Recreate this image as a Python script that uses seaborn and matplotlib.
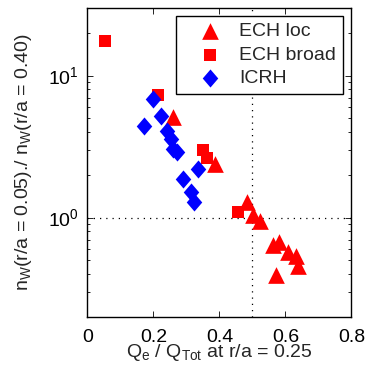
import numpy as np
import pandas as pd
import seaborn as sns
import matplotlib
matplotlib.use("Agg")
import matplotlib.pyplot as plt
from matplotlib.ticker import LogLocator, FixedLocator

# ---- data ----
ech_loc_x = [0.260, 0.386, 0.482, 0.502, 0.523, 0.561, 0.581, 0.608, 0.632, 0.639, 0.571]
ech_loc_y = [5.13, 2.40, 1.29, 1.04, 0.947, 0.643, 0.672, 0.572, 0.534, 0.454, 0.397]

ech_broad_x = [0.053, 0.215, 0.351, 0.361, 0.457]
ech_broad_y = [17.6, 7.28, 3.00, 2.64, 1.10]

icrh_x = [0.199, 0.223, 0.171, 0.240, 0.253, 0.260, 0.270, 0.336, 0.290, 0.313, 0.323]
icrh_y = [6.83, 5.22, 4.44, 4.10, 3.58, 3.05, 2.89, 2.21, 1.86, 1.52, 1.29]

labels = ["ECH loc", "ECH broad", "ICRH"]
x_ticks = [0, 0.2, 0.4, 0.6, 0.8]
x_tick_labels = ["0", "0.2", "0.4", "0.6", "0.8"]

sns.set_style("ticks")
plt.rcParams["font.family"] = ["Liberation Sans", "DejaVu Sans"]
plt.rcParams["mathtext.fontset"] = "custom"
plt.rcParams["mathtext.rm"] = "Liberation Sans"
plt.rcParams["mathtext.it"] = "Liberation Sans"
plt.rcParams["mathtext.default"] = "regular"
FS = 14

fig = plt.figure(figsize=(3.65, 3.71), dpi=100)
ax = fig.add_axes([0.2397, 0.1456, 0.7233, 0.8336])

df_loc = pd.DataFrame({"x": ech_loc_x, "y": ech_loc_y})
df_broad = pd.DataFrame({"x": ech_broad_x, "y": ech_broad_y})
df_icrh = pd.DataFrame({"x": icrh_x, "y": icrh_y})

# reference lines
ax.axvline(0.5, color="black", linestyle=(0, (1, 4)), linewidth=0.9, zorder=1)
ax.axhline(1.0, color="black", linestyle=(0, (1, 4)), linewidth=0.9, zorder=1)

diamond = [(0, 1), (0.86, 0), (0, -1), (-0.86, 0), (0, 1)]

sns.scatterplot(data=df_loc, x="x", y="y", marker="^", color=(1, 0, 0),
                s=12 ** 2, linewidth=0, ax=ax, label=labels[0], zorder=3)
sns.scatterplot(data=df_broad, x="x", y="y", marker="s", color=(1, 0, 0),
                s=8.4 ** 2, linewidth=0, ax=ax, label=labels[1], zorder=3)
sns.scatterplot(data=df_icrh, x="x", y="y", marker=diamond, color=(0, 0, 1),
                s=13 ** 2, linewidth=0, ax=ax, label=labels[2], zorder=4)

ax.set_yscale("log")
ax.set_xlim(0, 0.8)
ax.set_ylim(0.2, 30)
ax.xaxis.set_major_locator(FixedLocator(x_ticks))
ax.set_xticklabels(x_tick_labels)
ax.yaxis.set_major_locator(LogLocator(base=10, numticks=10))
ax.yaxis.set_minor_locator(LogLocator(base=10, subs=np.arange(2, 10), numticks=10))

ax.tick_params(axis="both", which="both", direction="in", top=True, right=True,
               labelsize=FS, colors="black")
ax.tick_params(axis="both", which="major", length=4, width=0.6)
ax.tick_params(axis="y", which="minor", length=2.5, width=0.6)
ax.tick_params(axis="x", which="major", pad=9)
ax.tick_params(axis="y", which="major", pad=6)
for sp in ax.spines.values():
    sp.set_linewidth(1.0)
    sp.set_color("black")
    sp.set_visible(True)

ax.set_xlabel(r"Q$_e$ / Q$_{Tot}$ at r/a = 0.25", fontsize=FS, labelpad=-3)
ax.set_ylabel(r"n$_W$(r/a = 0.05)./ n$_W$(r/a = 0.40)", fontsize=FS, labelpad=10)

leg = ax.legend(loc="upper right", fontsize=FS, frameon=True, fancybox=False,
                edgecolor="black", framealpha=1, borderpad=0.35,
                handletextpad=0.1, labelspacing=0.3, handlelength=2.8,
                borderaxespad=0, bbox_to_anchor=(0.968, 0.973))
leg.get_frame().set_linewidth(1.0)

fig.savefig("out.png", dpi=100)
